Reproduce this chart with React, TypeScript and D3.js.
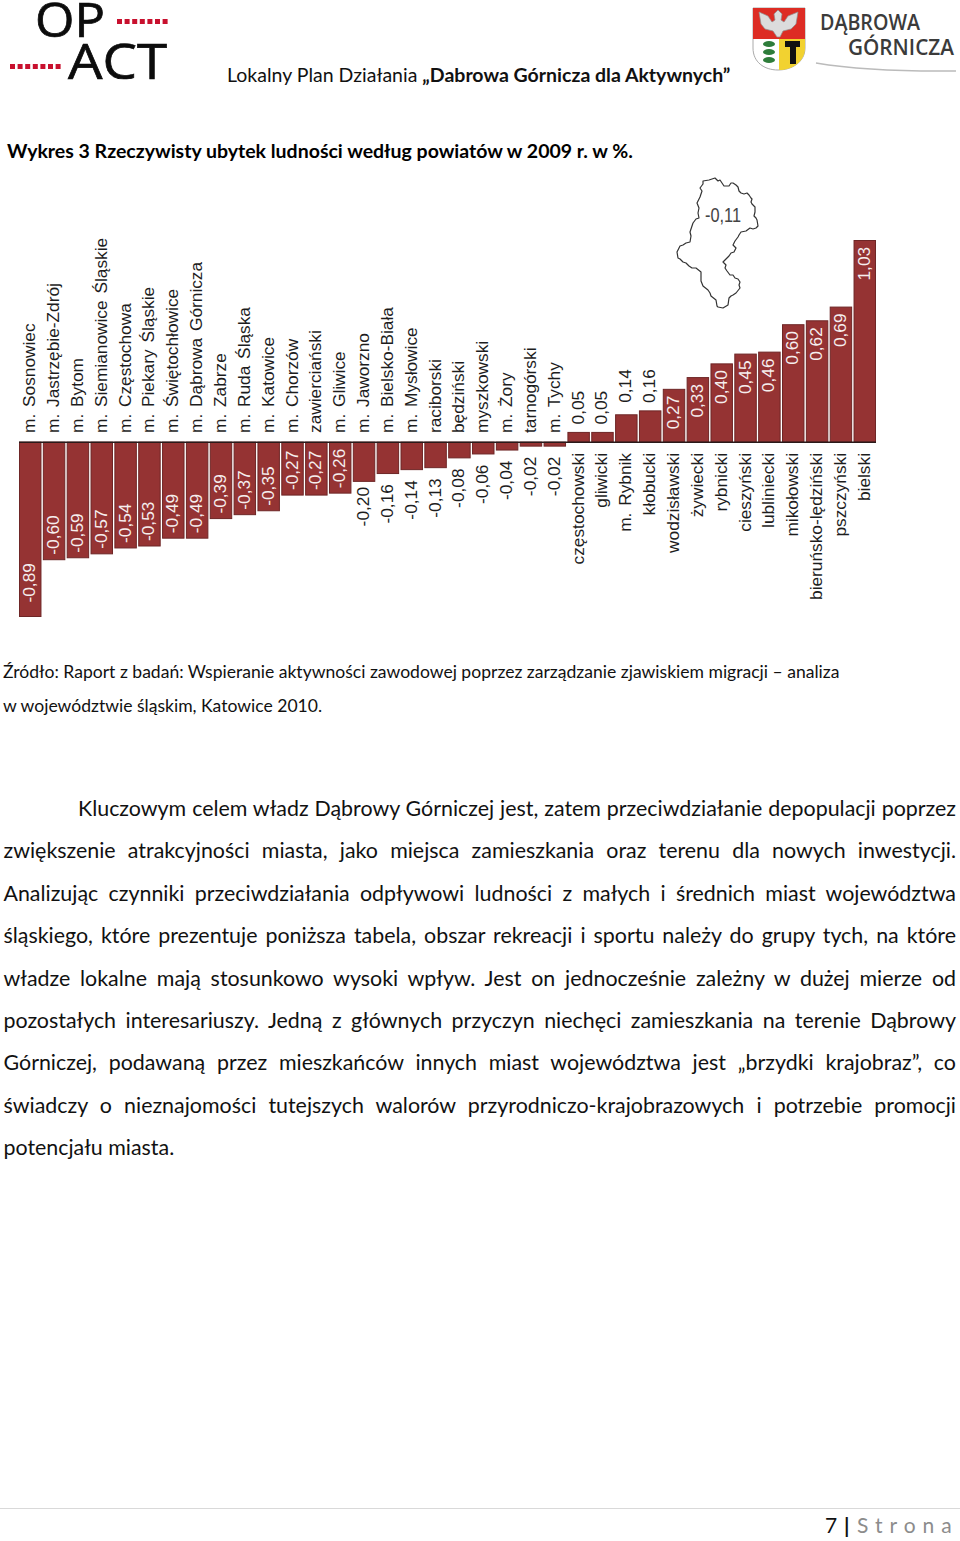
import { useEffect, useRef } from 'react';
import * as d3 from 'd3';

const categories = [
  'm. Sosnowiec', 'm. Jastrzębie-Zdrój', 'm. Bytom', 'm. Siemianowice Śląskie', 'm. Częstochowa',
  'm. Piekary Śląskie', 'm. Świętochłowice', 'm. Dąbrowa Górnicza', 'm. Zabrze', 'm. Ruda Śląska',
  'm. Katowice', 'm. Chorzów', 'zawierciański', 'm. Gliwice', 'm. Jaworzno', 'm. Bielsko-Biała',
  'm. Mysłowice', 'raciborski', 'będziński', 'myszkowski', 'm. Żory', 'tarnogórski', 'm. Tychy',
  'częstochowski', 'gliwicki', 'm. Rybnik', 'kłobucki', 'wodzisławski', 'żywiecki', 'rybnicki',
  'cieszyński', 'lubliniecki', 'mikołowski', 'bieruńsko-lędziński', 'pszczyński', 'bielski',
];
const values = [
  -0.89, -0.6, -0.59, -0.57, -0.54, -0.53, -0.49, -0.49, -0.39, -0.37, -0.35, -0.27, -0.27, -0.26,
  -0.2, -0.16, -0.14, -0.13, -0.08, -0.06, -0.04, -0.02, -0.02,
  0.05, 0.05, 0.14, 0.16, 0.27, 0.33, 0.4, 0.45, 0.46, 0.6, 0.62, 0.69, 1.03,
];
const regionValue = '-0,11';
// outline of the voivodeship, traced in page pixels
const regionOutline: [number, number][] = [
  [715, 178], [718, 181], [720, 180], [724, 186], [729, 186], [731, 183], [733, 183], [736, 185], [738, 187],
  [739, 191], [741, 193], [744, 194], [747, 193], [749, 195], [751, 198], [752, 199], [751, 202], [752, 204],
  [755, 207], [755, 212], [754, 216], [756, 218], [757, 220], [758, 226], [756, 228], [753, 229], [750, 228],
  [746, 231], [741, 232], [739, 235], [738, 237], [735, 241], [733, 245], [736, 248], [734, 252], [731, 253],
  [729, 256], [725, 260], [723, 262], [726, 265], [725, 268], [727, 271], [730, 275], [733, 275], [735, 278],
  [738, 279], [740, 282], [739, 285], [740, 288], [736, 293], [733, 295], [731, 296], [729, 298], [728, 305],
  [723, 308], [718, 307], [717, 306], [716, 300], [711, 296], [710, 293], [708, 290], [703, 286], [701, 281],
  [701, 272], [696, 268], [692, 268], [689, 266], [686, 263], [683, 262], [680, 259], [678, 258], [677, 252],
  [680, 246], [683, 245], [686, 243], [690, 242], [691, 236], [690, 232], [691, 229], [693, 223], [696, 219],
  [699, 218], [698, 213], [699, 208], [697, 203], [700, 197], [702, 191], [700, 188], [703, 184], [703, 181], [709, 180],
];
const headerLine = ['Lokalny Plan Działania ', '„Dabrowa Górnicza dla Aktywnych”'];
const chartTitle = 'Wykres 3 Rzeczywisty ubytek ludności według powiatów w 2009 r. w %.';
const sourceLines = [
  'Źródło: Raport z badań: Wspieranie aktywności zawodowej poprzez zarządzanie zjawiskiem migracji – analiza',
  'w województwie śląskim, Katowice 2010.',
];
const bodyLines = [
  'Kluczowym celem władz Dąbrowy Górniczej jest, zatem przeciwdziałanie depopulacji poprzez',
  'zwiększenie atrakcyjności miasta, jako miejsca zamieszkania oraz terenu dla nowych inwestycji.',
  'Analizując czynniki przeciwdziałania odpływowi ludności z małych i średnich miast województwa',
  'śląskiego, które prezentuje poniższa tabela, obszar rekreacji i sportu należy do grupy tych, na które',
  'władze lokalne mają stosunkowo wysoki wpływ. Jest on jednocześnie zależny w dużej mierze od',
  'pozostałych interesariuszy. Jedną z głównych przyczyn niechęci zamieszkania na terenie Dąbrowy',
  'Górniczej, podawaną przez mieszkańców innych miast województwa jest „brzydki krajobraz”, co',
  'świadczy o nieznajomości tutejszych walorów przyrodniczo-krajobrazowych i potrzebie promocji',
];
const lastBodyLine = 'potencjału miasta.';

const width = 960;
const height = 1541;
const textFont = 'Lato, "Open Sans", sans-serif';
const chartFont = '"Liberation Sans", Arial, sans-serif';

function fitWords(sel: d3.Selection<SVGTextElement, any, any, any>, target: number) {
  sel.each(function () {
    const t = d3.select(this);
    const spaces = (t.text().match(/ /g) || []).length;
    const len = this.getComputedTextLength();
    t.attr('word-spacing', (target - len) / spaces);
  });
}

export default function App() {
  const svgRef = useRef<SVGSVGElement | null>(null);

  useEffect(() => {
    const svg = svgRef.current;
    if (!svg) return;
    const root = d3.select(svg);
    root.selectAll('*').remove();

    // ---- logos
    const opact = root.append('g').attr('font-family', '"Open Sans", sans-serif').attr('fill', '#0c0c0c')
      .attr('stroke', '#0c0c0c').attr('stroke-width', 0.7);
    opact.append('text').attr('x', 35).attr('y', 37).attr('font-size', 47)
      .attr('textLength', 70).attr('lengthAdjust', 'spacingAndGlyphs').text('OP');
    opact.append('text').attr('x', 68).attr('y', 79).attr('font-size', 50)
      .attr('textLength', 99).attr('lengthAdjust', 'spacingAndGlyphs').text('ACT');
    const dotsTop = d3.range(7).map((i) => 117 + i * 7.6);
    const dotsBottom = d3.range(7).map((i) => 10 + i * 7.6);
    [[dotsTop, 19], [dotsBottom, 64]].forEach(([xs, y]) => {
      root.append('g').selectAll('rect').data(xs as number[]).join('rect')
        .attr('x', (d) => d).attr('y', y as number).attr('width', 5).attr('height', 5).attr('fill', '#c8102e');
    });

    const crest = root.append('g');
    crest.append('path').attr('d', 'M753 8H805V48C805 62 792 70 778 70C764 70 753 62 753 48Z').attr('fill', '#fff').attr('stroke', '#aaa');
    crest.append('rect').attr('x', 753).attr('y', 8).attr('width', 52).attr('height', 31).attr('fill', '#dd2c24');
    crest.append('path').attr('d', 'M779 39H805V48C805 62 792 70 779 70Z').attr('fill', '#f2d230');
    // eagle
    crest.append('path')
      .attr('d', 'M777 37L773 31L765 29L761 24L759 12L768 16L772 22L775 20L774 14L778 10L782 14L781 20L784 22L788 16L798 12L796 24L791 29L783 31L780 37Z')
      .attr('fill', '#dcdcdc').attr('stroke', '#8f8f8f').attr('stroke-width', 0.7);
    crest.append('path').attr('d', 'M785 41H800V47H796V64H790V47H785Z').attr('fill', '#111');
    crest.append('g').selectAll('ellipse').data([44, 52, 60]).join('ellipse')
      .attr('cx', 769).attr('cy', (d) => d).attr('rx', 6).attr('ry', 3).attr('fill', '#2e7d3a');
    const city = root.append('g').attr('font-family', '"Open Sans", sans-serif').attr('fill', '#3b3b3b').attr('font-weight', 600);
    city.append('text').attr('x', 820).attr('y', 30).attr('font-size', 21)
      .attr('textLength', 100).attr('lengthAdjust', 'spacingAndGlyphs').text('DĄBROWA');
    city.append('text').attr('x', 848).attr('y', 55).attr('font-size', 21)
      .attr('textLength', 106).attr('lengthAdjust', 'spacingAndGlyphs').text('GÓRNICZA');
    root.append('path').attr('d', 'M816 63Q870 72 956 71').attr('fill', 'none').attr('stroke', '#bbb').attr('stroke-width', 1.5);

    // ---- page text
    const header = root.append('text').attr('x', 227).attr('y', 82).attr('font-family', textFont).attr('font-size', 19.5).attr('fill', '#111');
    header.append('tspan').text(headerLine[0]);
    header.append('tspan').attr('font-weight', 700).text(headerLine[1]);

    root.append('text').attr('x', 7).attr('y', 158).attr('font-family', textFont).attr('font-size', 19.5)
      .attr('font-weight', 700).attr('fill', '#000').text(chartTitle);

    root.append('g').attr('font-family', textFont).attr('font-size', 17.56).attr('fill', '#111')
      .selectAll('text').data(sourceLines).join('text')
      .attr('x', 3).attr('y', (_, i) => 678 + i * 34).text((d) => d);

    const bodyY = d3.scaleLinear().domain([0, 8]).range([816, 1155]);
    const body = root.append('g').attr('font-family', textFont).attr('font-size', 21.4).attr('fill', '#111');
    body.selectAll('text').data(bodyLines).join('text')
      .attr('x', (_, i) => (i === 0 ? 78 : 3.5))
      .attr('y', (_, i) => bodyY(i))
      .text((d) => d)
      .each(function (_, i) {
        fitWords(d3.select(this), i === 0 ? 878 : 952.5);
      });
    body.append('text').attr('class', 'last').attr('x', 3.5).attr('y', bodyY(8)).text(lastBodyLine);

    // ---- footer
    root.append('line').attr('x1', 0).attr('x2', 960).attr('y1', 1508.5).attr('y2', 1508.5).attr('stroke', '#d9d9d9');
    const footer = root.append('g').attr('font-family', textFont).attr('font-size', 21);
    footer.append('text').attr('x', 825).attr('y', 1533).attr('fill', '#111').text('7');
    footer.append('text').attr('x', 844).attr('y', 1533).attr('fill', '#111').attr('font-weight', 700).text('|');
    footer.append('text').attr('x', 857).attr('y', 1533).attr('fill', '#8c8c8c').attr('letter-spacing', 7).text('Strona');

    // ---- chart
    const x = d3.scaleBand<number>().domain(d3.range(values.length)).range([19.5, 875.5]).paddingInner(0.1).paddingOuter(0);
    const y = d3.scaleLinear().domain([-0.89, 1.03]).range([616.5, 240.5]);
    const barColor = '#953333';
    const fmt = (v: number) => v.toFixed(2).replace('.', ',');
    const labelSize = 17.3;
    const baselineShift = 5;

    const chart = root.append('g').attr('font-family', chartFont);
    chart.append('g').selectAll('rect').data(values).join('rect')
      .attr('x', (_, i) => x(i)!)
      .attr('y', (d) => (d > 0 ? y(d) : y(0)))
      .attr('width', x.bandwidth())
      .attr('height', (d) => Math.abs(y(d) - y(0)))
      .attr('fill', barColor)
      .attr('stroke', '#6e2626')
      .attr('stroke-width', 1);
    chart.append('line').attr('x1', 19).attr('x2', 876).attr('y1', y(0)).attr('y2', y(0)).attr('stroke', '#2a1a1a').attr('stroke-width', 1.5);

    const rotated = (px: number, py: number) => `translate(${px},${py}) rotate(-90)`;

    // category names sit on the far side of the axis from the bar
    chart.append('g').attr('font-size', labelSize).attr('fill', '#1d1d1d').attr('word-spacing', 2)
      .selectAll('text').data(categories).join('text')
      .attr('transform', (_, i) => rotated(x(i)! + x.bandwidth() / 2 + baselineShift, values[i] < 0 ? 433 : 453))
      .attr('text-anchor', (_, i) => (values[i] < 0 ? 'start' : 'end'))
      .text((d) => d);

    // value labels: white inside long bars, dark beyond short ones
    chart.append('g').attr('font-size', labelSize)
      .selectAll('text').data(values).join('text')
      .attr('transform', (d, i) => {
        const inside = Math.abs(d) >= 0.25;
        const cx = x(i)! + x.bandwidth() / 2 + baselineShift;
        if (d < 0) {
          if (inside) return rotated(cx, y(d) - (d === -0.89 ? 14 : 5));
          return rotated(cx, y(d) + (d === -0.2 ? 45 : 50));
        }
        return rotated(cx, inside ? y(d) + 40 : y(d) - (d === 0.14 ? 12 : 8));
      })
      .attr('fill', (d) => (Math.abs(d) >= 0.25 ? '#f6eeee' : '#1d1d1d'))
      .text((d) => fmt(d));

    // map inset
    chart.append('path')
      .attr('d', d3.line()(regionOutline)! + 'Z')
      .attr('fill', '#fff').attr('stroke', '#333').attr('stroke-width', 1.2).attr('stroke-linejoin', 'round');
    chart.append('text').attr('x', 705).attr('y', 222).attr('font-size', 20).attr('fill', '#444')
      .attr('textLength', 36).attr('lengthAdjust', 'spacingAndGlyphs').text(regionValue);
  }, []);

  return (
    <svg
      ref={svgRef}
      width={width}
      height={height}
      viewBox={`0 0 ${width} ${height}`}
      style={{ position: 'absolute', left: 0, top: 0, background: '#fff' }}
    />
  );
}
